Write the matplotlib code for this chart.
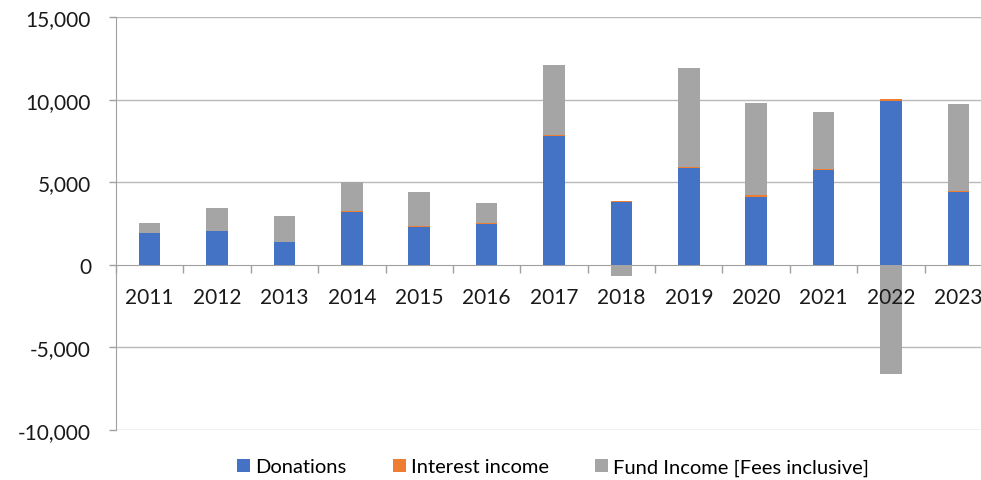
import numpy as np
import matplotlib.pyplot as plt

# Values
years = ['2011', '2012', '2013', '2014', '2015', '2016', '2017',
         '2018', '2019', '2020', '2021', '2022', '2023']
donations = [1900, 2050, 1350, 3200, 2290, 2500, 7770,
             3800, 5850, 4130, 5745, 9930, 4380]
interest = [10, 10, 20, 60, 50, 50, 60,
            80, 100, 100, 40, 100, 80]
fund_income = [620, 1360, 1590, 1740, 2050, 1180, 4260,
               -650, 5960, 5540, 3475, -6640, 5260]

series = [('Donations', donations, '#4472C4'),
          ('Interest income', interest, '#ED7D31'),
          ('Fund Income [Fees inclusive]', fund_income, '#A5A5A5')]

plt.rcParams['font.family'] = ['Lato', 'DejaVu Sans']

fig = plt.figure(figsize=(9.81, 4.81), dpi=100)
ax = fig.add_axes([116 / 981, 1 - 431 / 481, 876 / 981, 413 / 481])

x = np.arange(len(years))
pos_base = np.zeros(len(years))
neg_base = np.zeros(len(years))
for name, vals, color in series:
    vals = np.array(vals, dtype=float)
    bottom = np.where(vals >= 0, pos_base, neg_base)
    ax.bar(x, vals, width=0.32, bottom=bottom, color=color, label=name,
           linewidth=0, zorder=2)
    pos_base += np.where(vals >= 0, vals, 0)
    neg_base += np.where(vals < 0, vals, 0)

ax.set_xlim(-0.5, len(years) - 0.5)
ax.set_ylim(-10000, 15000)
ax.set_yticks(np.arange(-10000, 15001, 5000))
ax.yaxis.set_major_formatter(plt.FuncFormatter(lambda v, p: f'{int(v):,}'))
# gridlines behind the bars, tick labels above them
for v in np.arange(-10000, 15001, 5000):
    if v != 0:
        ax.axhline(v, color='#b8b8b8', linewidth=1, zorder=0)
ax.tick_params(axis='y', length=5, color='#a0a0a0', width=1,
               labelsize=15, pad=13)

# category axis sits on the zero line
ax.spines['bottom'].set_position(('data', 0))
ax.spines['bottom'].set_color('#a0a0a0')
ax.spines['bottom'].set_zorder(1)
ax.spines['left'].set_color('#a0a0a0')
ax.spines['top'].set_visible(False)
ax.spines['right'].set_visible(False)
ax.set_xticks(x)
ax.set_xticklabels(years)
ax.set_xticks(np.arange(-0.5, len(years)), minor=True)
ax.tick_params(axis='x', which='major', length=0, labelsize=15, pad=16)
ax.tick_params(axis='x', which='minor', length=6, color='#a0a0a0', width=1)
ax.xaxis.set_zorder(3)

for lbl in ax.get_xticklabels() + ax.get_yticklabels():
    lbl.set_color('#1a1a1a')

fig.legend(*ax.get_legend_handles_labels(), loc='center',
           bbox_to_anchor=(0.564, 1 - 468 / 481), ncol=3,
           frameon=False, fontsize=14.5, handlelength=0.65, handleheight=0.65,
           handletextpad=0.25, columnspacing=2.3)

fig.savefig('out.png', dpi=100)
